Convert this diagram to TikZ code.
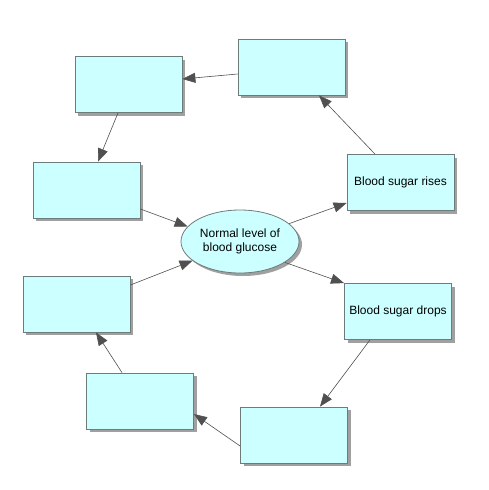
\documentclass[tikz,border=0pt]{standalone}
\usepackage{fontspec}
\setmainfont{Liberation Sans}
\usetikzlibrary{arrows.meta,shadows,shapes.geometric}
\definecolor{boxfill}{HTML}{CCFFFF}
\definecolor{boxline}{HTML}{6E7B7B}
\definecolor{arrowc}{HTML}{505050}
\definecolor{shadowc}{HTML}{A0A0A0}
\begin{document}
\begin{tikzpicture}[x=1pt,y=-1pt,
  box/.style={draw=boxline,fill=boxfill,line width=0.8pt,minimum width=107pt,minimum height=56pt,
    inner sep=0pt,font=\fontsize{12}{14}\selectfont,align=center,
    drop shadow={shadow xshift=3pt,shadow yshift=-3pt,fill=shadowc,opacity=1}},
  oval/.style={ellipse,draw=boxline,fill=boxfill,line width=0.8pt,minimum width=118pt,minimum height=63pt,
    inner sep=0pt,font=\fontsize{12}{14}\selectfont,align=center,
    drop shadow={shadow xshift=3pt,shadow yshift=-3pt,fill=shadowc,opacity=1}},
  conn/.style={draw=arrowc,line width=0.6pt,-{Triangle[length=13pt,width=10pt,fill=arrowc]}}]
\useasboundingbox (0,0) rectangle (488,490);
\node[oval] (n) at (240,241.5) {Normal level of\\blood glucose};
\node[box] (rise) at (400.5,182.5) {Blood sugar rises};
\node[box] (drop) at (398,311.5) {Blood sugar drops};
\node[box] (b) at (291.5,67) {};
\node[box] (a) at (128.5,84.5) {};
\node[box] (c) at (86.5,190) {};
\node[box] (h) at (294,435) {};
\node[box] (g) at (140,401) {};
\node[box] (f) at (76.5,304) {};
\draw[conn] (n.20) -- ([yshift=-20.5pt]rise.west);
\draw[conn] (n.-25) -- ([xshift=-54pt]drop.north);
\draw[conn] ([xshift=-25.5pt]rise.north) -- ([xshift=27.5pt]b.south);
\draw[conn] ([yshift=-7pt]b.west) -- ([yshift=5.5pt]a.east);
\draw[conn] ([xshift=-10.5pt]a.south) -- ([xshift=11.5pt]c.north);
\draw[conn] ([yshift=-19pt]c.east) -- (n.164);
\draw[conn] ([xshift=-28pt]drop.south) -- ([xshift=26pt]h.north);
\draw[conn] ([yshift=-11pt]h.west) -- ([yshift=-13pt]g.east);
\draw[conn] ([xshift=-18pt]g.north) -- ([xshift=19.5pt]f.south);
\draw[conn] ([yshift=19pt]f.east) -- (n.202);
\end{tikzpicture}
\end{document}
